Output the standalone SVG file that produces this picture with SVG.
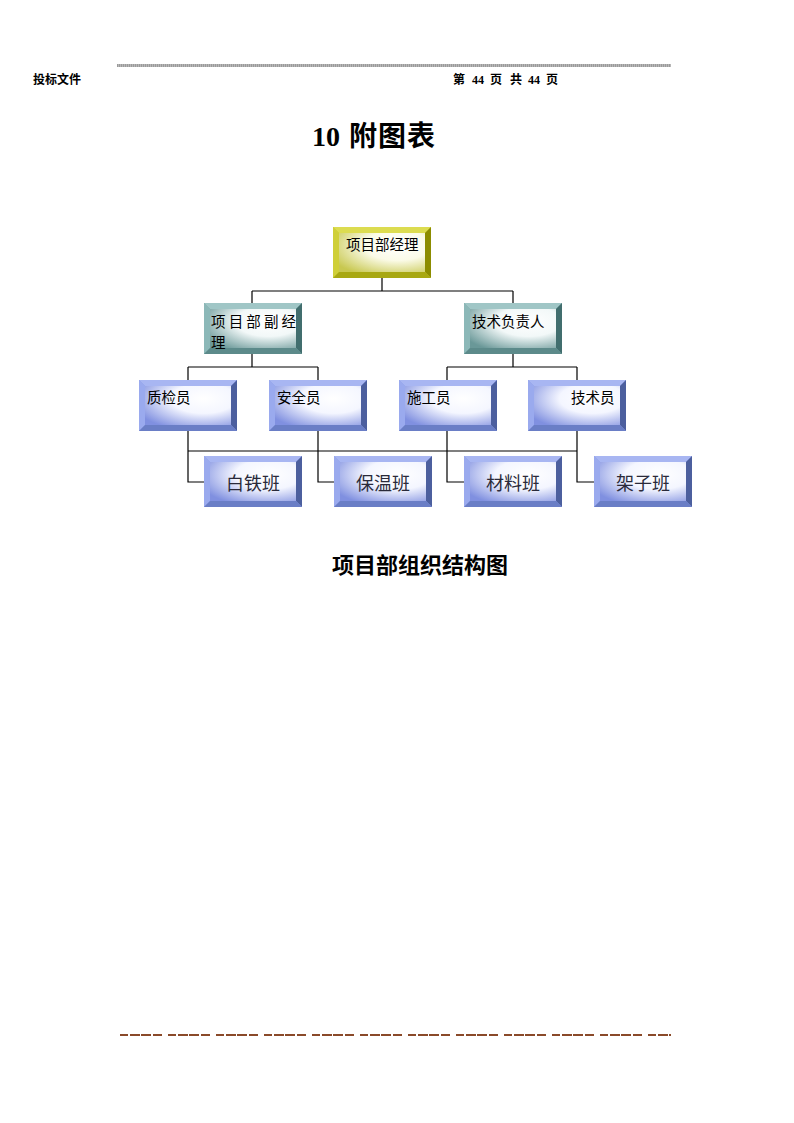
<svg xmlns="http://www.w3.org/2000/svg" xmlns:xlink="http://www.w3.org/1999/xlink" width="794" height="1123" viewBox="0 0 794 1123">
<style>
.hd{font-family:"Liberation Sans","Noto Sans CJK SC",sans-serif;font-weight:bold;font-size:12px;fill:#000}
.num{font-family:"Liberation Serif","Noto Sans CJK SC",serif;font-weight:bold;fill:#000}
.ttl{font-family:"Liberation Serif","Noto Sans CJK SC",serif;font-weight:bold;fill:#000}
.lbl{font-family:"Noto Sans CJK SC","Liberation Sans",sans-serif;font-size:14.5px;fill:#000}
.big{font-family:"Liberation Serif","Noto Sans CJK SC",serif;font-size:18px;fill:#2a2a3a;text-anchor:middle}
.conn{stroke:#000;stroke-width:1.2;fill:none}
</style>
<defs>
<radialGradient id="gB" cx="0.68" cy="0.32" r="0.85">
<stop offset="0" stop-color="#ffffff"/><stop offset="0.45" stop-color="#f4f6ff"/><stop offset="1" stop-color="#8090e0"/>
</radialGradient>
<radialGradient id="gT" cx="0.68" cy="0.32" r="0.85">
<stop offset="0" stop-color="#ffffff"/><stop offset="0.45" stop-color="#f2f8f8"/><stop offset="1" stop-color="#6a9898"/>
</radialGradient>
<radialGradient id="gY" cx="0.68" cy="0.32" r="0.85">
<stop offset="0" stop-color="#ffffff"/><stop offset="0.45" stop-color="#fbfbe8"/><stop offset="1" stop-color="#c8c850"/>
</radialGradient>
<g id="boxB">
<rect x="0" y="0" width="98" height="51" fill="#8a9ae6"/>
<polygon points="0,0 98,0 92,6 6,6" fill="#a8b6f2"/>
<polygon points="0,0 6,6 6,45 0,51" fill="#9aaaee"/>
<polygon points="98,0 98,51 92,45 92,6" fill="#4c5f9e"/>
<polygon points="0,51 6,45 92,45 98,51" fill="#6a7ec6"/>
<rect x="6" y="6" width="86" height="39" fill="url(#gB)"/>
</g>
<g id="boxT">
<rect x="0" y="0" width="98" height="51" fill="#7fa8a8"/>
<polygon points="0,0 98,0 92,6 6,6" fill="#a0c6c6"/>
<polygon points="0,0 6,6 6,45 0,51" fill="#8cb8b8"/>
<polygon points="98,0 98,51 92,45 92,6" fill="#416e6e"/>
<polygon points="0,51 6,45 92,45 98,51" fill="#5c8a8a"/>
<rect x="6" y="6" width="86" height="39" fill="url(#gT)"/>
</g>
<g id="boxY">
<rect x="0" y="0" width="98" height="51" fill="#c8c830"/>
<polygon points="0,0 98,0 92,6 6,6" fill="#dcdc50"/>
<polygon points="0,0 6,6 6,45 0,51" fill="#cfcf38"/>
<polygon points="98,0 98,51 92,45 92,6" fill="#8c8c00"/>
<polygon points="0,51 6,45 92,45 98,51" fill="#a8a812"/>
<rect x="6" y="6" width="86" height="39" fill="url(#gY)"/>
</g>
</defs>
<rect width="794" height="1123" fill="#fff"/>
<g id="header">
<line x1="117" y1="65.5" x2="671" y2="65.5" stroke="#9a9a9a" stroke-width="3" stroke-dasharray="1 1"/>
<line x1="117" y1="65.5" x2="671" y2="65.5" stroke="#b8b8b8" stroke-width="3" stroke-dasharray="1 1" stroke-dashoffset="1"/>
<text class="hd" x="33" y="84">投标文件</text>
<text class="hd" y="84"><tspan x="453">第</tspan><tspan class="num" x="472">44</tspan><tspan x="490">页</tspan><tspan x="510">共</tspan><tspan class="num" x="528">44</tspan><tspan x="546">页</tspan></text>
</g>
<text class="ttl" y="146" font-size="28"><tspan x="312">10</tspan><tspan x="349" letter-spacing="1">附图表</tspan></text>
<g id="connectors">
<path class="conn" d="M382,277 V291 M252,291 H513 M252,291 V303 M513,291 V303"/>
<path class="conn" d="M252,354 V367 M188,367 H318 M188,367 V380 M318,367 V380"/>
<path class="conn" d="M513,354 V367 M447,367 H577 M447,367 V380 M577,367 V380"/>
<path class="conn" d="M188,451 H577"/>
<path class="conn" d="M188,431 V482 H204 M318,431 V482 H334 M447,431 V482 H464 M577,431 V482 H594"/>
</g>
<g id="n-manager" transform="translate(333,227)"><use xlink:href="#boxY"/><text class="lbl" x="13" y="23">项目部经理</text></g>
<g id="n-deputy" transform="translate(204,303)"><use xlink:href="#boxT"/><text class="lbl" x="7" y="24" textLength="85" lengthAdjust="spacing">项目部副经</text><text class="lbl" x="7" y="45">理</text></g>
<g id="n-tech-lead" transform="translate(464,303)"><use xlink:href="#boxT"/><text class="lbl" x="8" y="24">技术负责人</text></g>
<g id="n-qc" transform="translate(139,380)"><use xlink:href="#boxB"/><text class="lbl" x="8" y="23">质检员</text></g>
<g id="n-safety" transform="translate(269,380)"><use xlink:href="#boxB"/><text class="lbl" x="8" y="23">安全员</text></g>
<g id="n-construct" transform="translate(399,380)"><use xlink:href="#boxB"/><text class="lbl" x="8" y="23">施工员</text></g>
<g id="n-tech" transform="translate(528,380)"><use xlink:href="#boxB"/><text class="lbl" x="43" y="23">技术员</text></g>
<g id="n-tin" transform="translate(204,456)"><use xlink:href="#boxB"/><text class="big" x="49" y="34">白铁班</text></g>
<g id="n-insul" transform="translate(334,456)"><use xlink:href="#boxB"/><text class="big" x="49" y="34">保温班</text></g>
<g id="n-mat" transform="translate(464,456)"><use xlink:href="#boxB"/><text class="big" x="49" y="34">材料班</text></g>
<g id="n-scaf" transform="translate(594,456)"><use xlink:href="#boxB"/><text class="big" x="49" y="34">架子班</text></g>
<text class="ttl" x="420" y="573" font-size="22" text-anchor="middle">项目部组织结构图</text>
<g id="footer">
<line x1="120" y1="1035" x2="671" y2="1035" stroke="#8a4a2a" stroke-width="2" stroke-dasharray="8 2 10 1 10 2 9 6"/>
</g>
</svg>
